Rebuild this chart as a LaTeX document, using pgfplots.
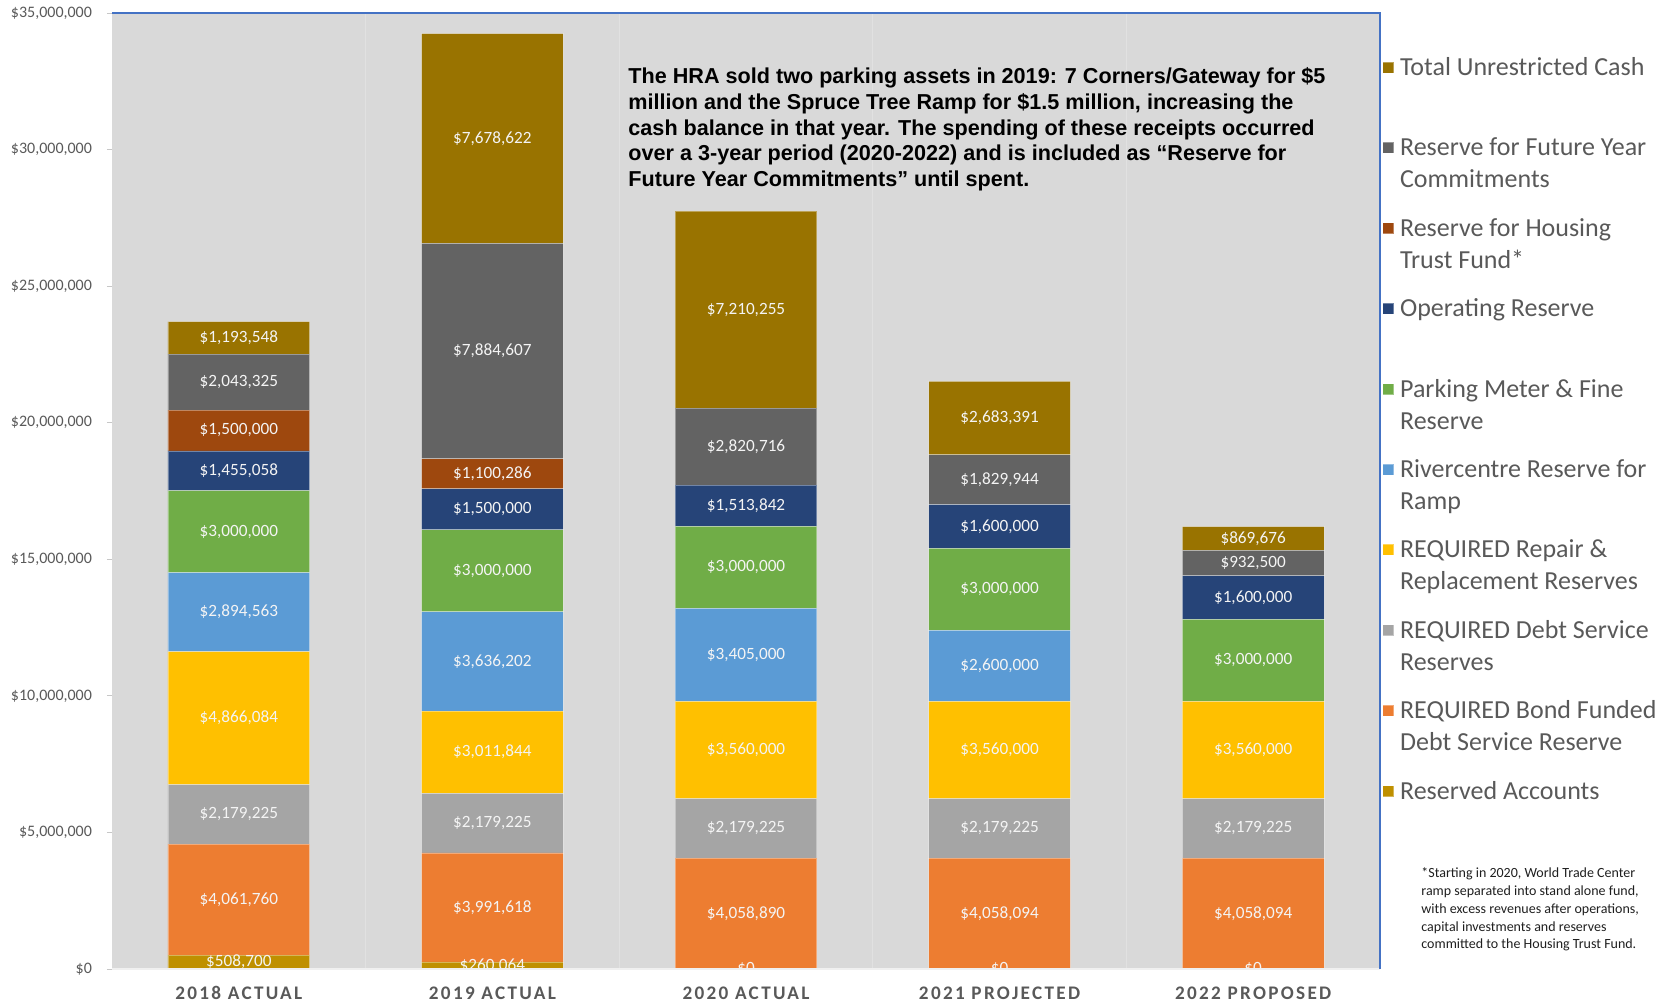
\documentclass[border=0pt]{standalone}
\usepackage{fontspec}
\setmainfont{Carlito}
\newfontfamily\annfont{Liberation Sans}
\newfontfamily\catfont[LetterSpace=12]{Carlito}
\usepackage{pgfplots}
\pgfplotsset{compat=1.18}
\usepackage{pgfplotstable}

\definecolor{cUnres}{HTML}{997300}
\definecolor{cFuture}{HTML}{636363}
\definecolor{cHousing}{HTML}{9E480E}
\definecolor{cOper}{HTML}{264478}
\definecolor{cPark}{HTML}{70AD47}
\definecolor{cRiver}{HTML}{5B9BD5}
\definecolor{cRepair}{HTML}{FFC000}
\definecolor{cDebt}{HTML}{A5A5A5}
\definecolor{cBond}{HTML}{ED7D31}
\definecolor{cResv}{HTML}{BF9000}
\definecolor{bgcol}{HTML}{D9D9D9}
\definecolor{txtgray}{HTML}{595959}
\definecolor{axblue}{HTML}{4472C4}
\definecolor{lbl}{HTML}{F4F4F4}

\pgfplotstableread{
x reserved bond    debt    repair  river   parking operating housing future  unres
0 508700   4061760 2179225 4866084 2894563 3000000 1455058   1500000 2043325 1193548
1 260064   3991618 2179225 3011844 3636202 3000000 1500000   1100286 7884607 7678622
2 0        4058890 2179225 3560000 3405000 3000000 1513842   0       2820716 7210255
3 0        4058094 2179225 3560000 2600000 3000000 1600000   0       1829944 2683391
4 0        4058094 2179225 3560000 0       3000000 1600000   0       932500  869676
}\datatable

\pgfplotsset{
  calc half/.code={%
    \pgfkeys{/pgf/fpu=true,/pgf/fpu/output format=fixed}%
    \pgfmathsetmacro\halfoff{\pgfplotspointmeta*478/70000000}%
    \pgfkeys{/pgf/fpu=false}%
  },
  sq legend/.style={legend image code/.code={\fill[##1] (0pt,-3.6pt) rectangle (5.5pt,1.9pt);}},
  common/.style={
    at={(0,0)}, anchor=south west,
    scale only axis, width=634pt, height=478pt,
    xmin=-0.5, xmax=4.5, ymin=0, ymax=35000000,
    /pgf/number format/fixed, /pgf/number format/precision=0, /pgf/number format/1000 sep={,}, /pgf/number format/assume math mode=true,
    point meta=explicit,
    every node near coord/.append style={anchor=center, font=\fontsize{8.6}{10}\selectfont, text=lbl, inner sep=0pt},
  },
  seg/.style={fill=#1, draw=white, draw opacity=0.35, line width=0.35pt, sq legend},
}
\newcommand\leg[2]{\begin{tabular}[t]{@{}l@{}}#1\\#2\end{tabular}}

\begin{document}
\begin{tikzpicture}
\path[use as bounding box] (-56pt,-17pt) rectangle (778.5pt,484.5pt);
\begin{axis}[
  common,
  name=ax,
  ybar stacked, bar width=70.8pt,
  axis background/.style={fill=bgcol},
  axis line style={draw=none},
  xtick={0,1,2,3,4},
  xticklabels={2018 ACTUAL,2019 ACTUAL,2020 ACTUAL,2021 PROJECTED,2022 PROPOSED},
  xtick style={draw=none},
  xticklabel style={font=\catfont\bfseries\fontsize{9.6}{11}\selectfont, text=txtgray, anchor=center, yshift=-9.5pt},
  minor xtick={0.5,1.5,2.5,3.5},
  xminorgrids, minor x grid style={draw=white!22!bgcol, line width=0.5pt},
  minor tick length=0pt,
  ytick={0,5000000,10000000,15000000,20000000,25000000,30000000,35000000},
  ytick pos=left, xtick pos=bottom,
  tick align=outside, major tick length=2.5pt,
  ytick style={draw=black!22, line width=0.5pt},
  scaled y ticks=false,
  yticklabel={\$\pgfmathprintnumber{\tick}},
  yticklabel style={font=\fontsize{8}{9.6}\selectfont, text=txtgray, xshift=-4pt},
  nodes near coords={\pgfmathfloatifflags{\pgfplotspointmeta}{0}{}{\$\pgfmathprintnumber{\pgfplotspointmeta}}},
  reverse legend,
  legend cell align=left,
  legend style={at={(rel axis cs:1,1)}, anchor=north west, xshift=1pt, yshift=-19.8pt, draw=none, fill=none, inner sep=0pt, row sep=27.5pt, column sep=3pt, font=\fontsize{13}{16}\selectfont, text=txtgray, nodes={inner sep=0pt}},
]
\addplot[seg=cResv, nodes near coords={}] table[x=x,y=reserved,meta=reserved]{\datatable};
\addlegendentry{\leg{Reserved Accounts}{}}
\addplot[seg=cBond] table[x=x,y=bond,meta=bond]{\datatable};
\addlegendentry{\leg{REQUIRED Bond Funded}{Debt Service Reserve}}
\addplot[seg=cDebt] table[x=x,y=debt,meta=debt]{\datatable};
\addlegendentry{\leg{REQUIRED Debt Service}{Reserves}}
\addplot[seg=cRepair] table[x=x,y=repair,meta=repair]{\datatable};
\addlegendentry{\leg{REQUIRED Repair \&}{Replacement Reserves}}
\addplot[seg=cRiver] table[x=x,y=river,meta=river]{\datatable};
\addlegendentry{\leg{Rivercentre Reserve for}{Ramp}}
\addplot[seg=cPark] table[x=x,y=parking,meta=parking]{\datatable};
\addlegendentry{\leg{Parking Meter \& Fine}{Reserve}}
\addplot[seg=cOper] table[x=x,y=operating,meta=operating]{\datatable};
\addlegendentry{\leg{Operating Reserve}{}}
\addplot[seg=cHousing] table[x=x,y=housing,meta=housing]{\datatable};
\addlegendentry{\leg{Reserve for Housing}{Trust Fund*}}
\addplot[seg=cFuture] table[x=x,y=future,meta=future]{\datatable};
\addlegendentry{\leg{Reserve for Future Year}{Commitments}}
\addplot[seg=cUnres] table[x=x,y=unres,meta=unres]{\datatable};
\addlegendentry{\leg{Total Unrestricted Cash}{}}
\node[anchor=north west, inner sep=0pt, align=left, font=\annfont\bfseries\fontsize{10.8}{12.9}\selectfont] at (rel axis cs:0.407,0.9434)
 {The HRA sold two parking assets in 2019: 7 Corners/Gateway for \$5\\
  million and the Spruce Tree Ramp for \$1.5 million, increasing the\\
  cash balance in that year. The spending of these receipts occurred\\
  over a 3-year period (2020-2022) and is included as “Reserve for\\
  Future Year Commitments” until spent.};
\end{axis}
% labels of the lowest series (Reserved Accounts), drawn on top of the stack at mid-height
\begin{axis}[
  common,
  hide axis,
  nodes near coords={\$\pgfmathprintnumber{\pgfplotspointmeta}},
  every node near coord/.append style={/pgfplots/calc half, yshift=-\halfoff pt},
]
\addplot[draw=none, mark=none] table[x=x,y=reserved,meta=reserved]{\datatable};
\end{axis}
% white band below the plot area hides the part of those labels that lies outside it
\fill[white] ([yshift=-0.2pt]ax.south west) rectangle ([yshift=-8pt]ax.south east);
\draw[draw=white!60!bgcol, line width=0.75pt] (ax.south west) -- (ax.south east);
\draw[axblue, line width=0.75pt] (ax.north west) -- (ax.north east) -- (ax.south east);
\node[anchor=north west, inner sep=0pt, align=left, xshift=20.5pt, yshift=50.8pt, font=\fontsize{7}{8.9}\selectfont, text=black!88] at (ax.south east)
 {*Starting in 2020, World Trade Center\\
  ramp separated into stand alone fund,\\
  with excess revenues after operations,\\
  capital investments and reserves\\
  committed to the Housing Trust Fund.};
\end{tikzpicture}
\end{document}
